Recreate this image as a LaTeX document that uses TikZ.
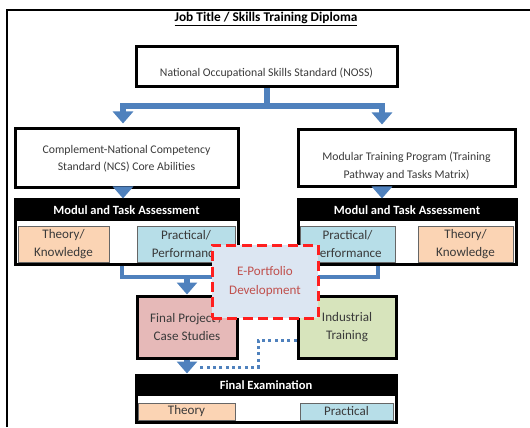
\documentclass[tikz,border=0pt]{standalone}
\usepackage{fontspec}
\setmainfont{Carlito}
\usetikzlibrary{arrows.meta,positioning}
\colorlet{background}{white}
\definecolor{penColor}{HTML}{3A3A3A}
\definecolor{arrowBlue}{HTML}{4F81BD}
\definecolor{theoryFill}{HTML}{FBD4B4}
\definecolor{practFill}{HTML}{B7DEE8}
\definecolor{projFill}{HTML}{E6B9B8}
\definecolor{indFill}{HTML}{D7E4BC}
\definecolor{portFill}{HTML}{DCE6F2}
\definecolor{portRed}{HTML}{FF1F1F}
\definecolor{portText}{HTML}{C0504D}
\tikzset{
	mainbox/.style={draw=black, line width=2.25pt, fill=white, align=center, text=penColor, inner sep=2pt},
	headbar/.style={fill=black, text=white, font=\fontsize{9.4}{11}\selectfont\bfseries, inner sep=0pt, minimum height=15.75pt},
	subbox/.style={draw=gray!80!black, line width=0.75pt, align=center, text=penColor, inner sep=0pt, font=\fontsize{9.8}{13.5}\selectfont},
	bigtext/.style={font=\fontsize{9.8}{14}\selectfont},
	bluearrow/.style={draw=arrowBlue, line width=4.5pt, -{Triangle[width=15pt,length=9pt]}},
	blueline/.style={draw=arrowBlue, line width=3pt},
	bluedots/.style={draw=arrowBlue, line width=2.25pt, dash pattern=on 2.25pt off 2.5pt},
}
\begin{document}
\begin{tikzpicture}[x=0.75pt,y=-0.75pt,font=\fontsize{8.8}{13}\selectfont]
	\useasboundingbox (0,0) rectangle (530,427);
	\draw[line width=1.1pt] (7,427) -- (7,10) -- (530,10);
	\node[font=\fontsize{10}{12}\selectfont\bfseries] (title) at (266,19) {\underline{Job Title / Skills Training Diploma}};
	% standards
	\node[mainbox, minimum width=195.75pt, minimum height=30pt] (noss) at (266.5,67) {\rule{0pt}{15.5pt}National Occupational Skills Standard (NOSS)};
	\node[mainbox, minimum width=167.25pt, minimum height=44.25pt] (ncs) at (126.5,158.5) {Complement-National Competency\\Standard (NCS) Core Abilities};
	\node[mainbox, minimum width=162.75pt, minimum height=42.75pt] (mtp) at (406.5,158.5) {\rule{0pt}{18pt}Modular Training Program (Training\\Pathway and Tasks Matrix)};
	% module assessments
	\node[mainbox, minimum width=167.25pt, minimum height=48pt] (mta1) at (126.5,232) {};
	\node[headbar, minimum width=167.25pt] (mta1h) at (126.5,210.5) {Modul and Task Assessment};
	\node[subbox, fill=theoryFill, minimum width=68.25pt, minimum height=27pt] (th1) at (63.5,244) {Theory/\\Knowledge};
	\node[subbox, fill=practFill, minimum width=73.5pt, minimum height=27pt] (pr1) at (186,244) {Practical/\\Performance};
	\node[mainbox, minimum width=163.5pt, minimum height=48pt] (mta2) at (407,232) {};
	\node[headbar, minimum width=163.5pt] (mta2h) at (407,210.5) {Modul and Task Assessment};
	\node[subbox, fill=practFill, minimum width=71.25pt, minimum height=27pt] (pr2) at (347.5,244) {Practical/\\Performance};
	\node[subbox, fill=theoryFill, minimum width=71.25pt, minimum height=27pt] (th2) at (465.5,244) {Theory/\\Knowledge};
	% projects
	\node[mainbox, bigtext, fill=projFill, minimum width=75pt, minimum height=46.5pt] (fp) at (187,327) {Final Project /\\Case Studies};
	\node[mainbox, bigtext, fill=indFill, minimum width=73.5pt, minimum height=46.5pt] (it) at (347,327) {Industrial\\Training};
	% final exam
	\node[mainbox, minimum width=195pt, minimum height=35.25pt] (fe) at (266,398.5) {};
	\node[headbar, minimum width=195pt] (feh) at (266,385.5) {Final Examination};
	\node[subbox, fill=theoryFill, minimum width=72.75pt, minimum height=12.75pt] (th3) at (186.5,411.5) {Theory};
	\node[subbox, fill=practFill, minimum width=69.75pt, minimum height=12.75pt] (pr3) at (346.5,411.5) {Practical};
	% connectors
	\coordinate (larr) at (123,0);
	\coordinate (rarr) at (382,0);
	\coordinate (lbar) at (122,277);
	\coordinate (rbar) at (378,277);
	\coordinate (dotk) at (258,340);
	\coordinate (dotl) at (200,367);
	\draw[bluearrow, shorten >=3pt] (noss.south) -- ++(0,18) -| (larr |- ncs.north);
	\draw[bluearrow, shorten >=3pt] (noss.south) -- ++(0,18) -| (rarr |- mtp.north);
	\draw[bluearrow] (larr |- ncs.south) -- (larr |- mta1.north);
	\draw[bluearrow] (rarr |- mtp.south) -- (rarr |- mta2.north);
	\draw[blueline] (lbar |- mta1.south) -- (lbar) -- (rbar) -- (rbar |- mta2.south);
	\draw[bluearrow] (fp.north |- lbar) -- (fp.north);
	\draw[bluearrow] (fp.south) -- (fp.south |- fe.north);
	\draw[bluedots] (it.west |- dotk) -- (dotk) -- (dotk |- dotl) -- (dotl);
	% portfolio
	\node[bigtext, draw=portRed, dash pattern=on 7.5pt off 4pt, line width=2.25pt, fill=portFill, text=portText, align=center, minimum width=79.5pt, minimum height=54.75pt] (ep) at (265,281.5) {E-Portfolio\\Development};
\end{tikzpicture}
\end{document}
